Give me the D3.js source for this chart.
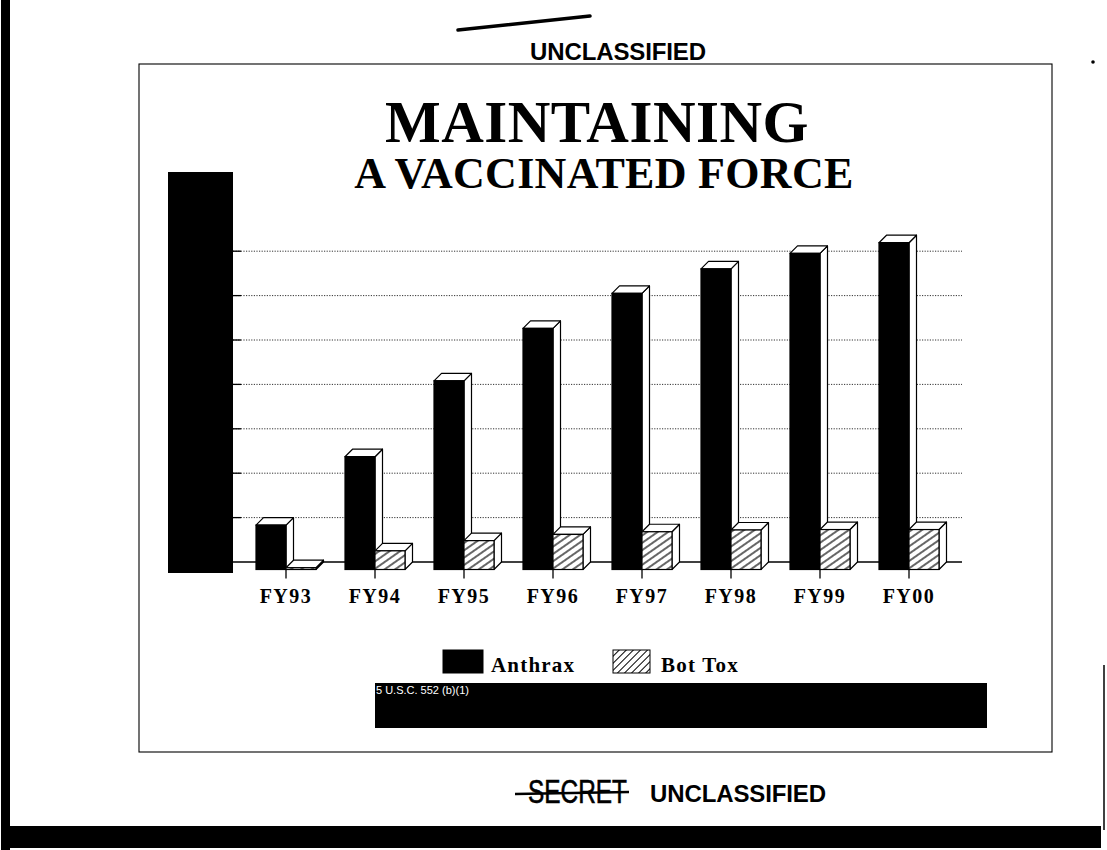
<!DOCTYPE html>
<html lang="en">
<head>
    <meta charset="utf-8">
    <title>Maintaining a Vaccinated Force</title>
    <script src="https://d3js.org/d3.v7.min.js"></script>
    <style type="text/css">
        body{
            margin: 0;
            background: #fff;
        }
        .serif{
            font-family: "Liberation Serif", "Times New Roman", serif;
            font-weight: bold;
        }
        .sans{
            font-family: "Liberation Sans", Arial, sans-serif;
        }
    </style>
</head>
<body>
    <div id="frame"></div>
    <script type="text/javascript">

        // values (y units = gridline steps, axis labels redacted)
        const categories = ["FY93", "FY94", "FY95", "FY96", "FY97", "FY98", "FY99", "FY00"];
        const anthrax = [1.0, 2.54, 4.25, 5.43, 6.22, 6.77, 7.12, 7.36];
        const botTox = [0.04, 0.42, 0.65, 0.79, 0.85, 0.89, 0.90, 0.90];
        const gridTicks = [1, 2, 3, 4, 5, 6, 7];
        const seriesNames = ["Anthrax", "Bot Tox"];

        const W = 1107, H = 850;
        const depth = 7.5;      // 3D offset
        const barW = 30;

        const svg = d3.select("#frame").append("svg")
            .attr("width", W)
            .attr("height", H);

        // hatch patterns
        const defs = svg.append("defs");
        defs.append("pattern")
            .attr("id", "hatch")
            .attr("patternUnits", "userSpaceOnUse")
            .attr("width", 6).attr("height", 6)
            .attr("patternTransform", "rotate(-35)")
            .call(p => {
                p.append("rect").attr("width", 6).attr("height", 6).attr("fill", "#fff");
                p.append("line").attr("x1", 0).attr("x2", 6).attr("y1", 3).attr("y2", 3)
                    .attr("stroke", "#000").attr("stroke-width", 1.2);
            });
        defs.append("pattern")
            .attr("id", "hatchLegend")
            .attr("patternUnits", "userSpaceOnUse")
            .attr("width", 5).attr("height", 5)
            .attr("patternTransform", "rotate(-45)")
            .call(p => {
                p.append("rect").attr("width", 5).attr("height", 5).attr("fill", "#fff");
                p.append("line").attr("x1", 0).attr("x2", 5).attr("y1", 2.5).attr("y2", 2.5)
                    .attr("stroke", "#000").attr("stroke-width", 1);
            });

        // page edges (scan artefacts)
        svg.append("rect").attr("x", 1).attr("y", 0).attr("width", 9).attr("height", H).attr("fill", "#000");
        svg.append("rect").attr("x", 1).attr("y", 826).attr("width", 1100).attr("height", 22).attr("fill", "#000");
        svg.append("line").attr("x1", 1104).attr("x2", 1104).attr("y1", 665).attr("y2", 830)
            .attr("stroke", "#000").attr("stroke-width", 1.5);
        svg.append("circle").attr("cx", 1093).attr("cy", 62).attr("r", 1.8).attr("fill", "#000");

        // slash mark and banners
        svg.append("line").attr("x1", 458).attr("y1", 30).attr("x2", 590).attr("y2", 16)
            .attr("stroke", "#000").attr("stroke-width", 3.5).attr("stroke-linecap", "round");

        svg.append("text")
            .attr("class", "sans")
            .attr("x", 618).attr("y", 60)
            .attr("text-anchor", "middle")
            .attr("font-size", 24).attr("font-weight", "bold")
            .attr("textLength", 176)
            .text("UNCLASSIFIED");

        svg.append("text")
            .attr("class", "sans")
            .attr("x", 738).attr("y", 802)
            .attr("text-anchor", "middle")
            .attr("font-size", 24).attr("font-weight", "bold")
            .attr("textLength", 176)
            .text("UNCLASSIFIED");

        svg.append("text")
            .attr("class", "sans")
            .attr("transform", "translate(528,803) scale(0.74,1)")
            .attr("font-size", 33)
            .attr("stroke", "#000").attr("stroke-width", 0.6)
            .text("SECRET");
        svg.append("line").attr("x1", 515).attr("x2", 629).attr("y1", 794).attr("y2", 792)
            .attr("stroke", "#000").attr("stroke-width", 2.5);

        // slide frame
        svg.append("rect")
            .attr("x", 139).attr("y", 64)
            .attr("width", 913).attr("height", 688)
            .attr("fill", "none").attr("stroke", "#000").attr("stroke-width", 1.1);

        // title
        svg.append("text")
            .attr("class", "serif")
            .attr("x", 597).attr("y", 142)
            .attr("text-anchor", "middle")
            .attr("font-size", 59)
            .attr("letter-spacing", 0.5)
            .text("MAINTAINING");
        svg.append("text")
            .attr("class", "serif")
            .attr("x", 604).attr("y", 188)
            .attr("text-anchor", "middle")
            .attr("font-size", 44)
            .attr("letter-spacing", 0.3)
            .text("A VACCINATED FORCE");

        // scales
        const x = d3.scalePoint()
            .domain(categories)
            .range([286, 909]);

        const y = d3.scaleLinear()
            .domain([0, 8])
            .range([562, 206.8]);

        const gridX0 = 233, gridX1 = 962;

        // dotted gridlines with short solid ticks
        const grid = svg.append("g");
        grid.selectAll("line.grid")
            .data(gridTicks)
            .enter()
            .append("line")
            .attr("class", "grid")
            .attr("x1", gridX0).attr("x2", gridX1)
            .attr("y1", d => y(d)).attr("y2", d => y(d))
            .attr("stroke", "#333")
            .attr("stroke-width", 1)
            .attr("stroke-dasharray", "1.2,1.4");
        grid.selectAll("line.tick")
            .data(gridTicks)
            .enter()
            .append("line")
            .attr("class", "tick")
            .attr("x1", gridX0).attr("x2", gridX0 + 8)
            .attr("y1", d => y(d)).attr("y2", d => y(d))
            .attr("stroke", "#000")
            .attr("stroke-width", 1.3);

        // base line
        svg.append("line")
            .attr("x1", gridX0).attr("x2", gridX1)
            .attr("y1", y(0)).attr("y2", y(0))
            .attr("stroke", "#000").attr("stroke-width", 1.3);

        // x ticks below bars
        svg.append("g").selectAll("line")
            .data(categories)
            .enter()
            .append("line")
            .attr("x1", d => x(d)).attr("x2", d => x(d))
            .attr("y1", y(0) + depth).attr("y2", y(0) + depth + 9)
            .attr("stroke", "#000").attr("stroke-width", 1.3);

        // draws one 3D box: front face at [x0, x0+w], value v
        function box(g, x0, v, frontFill) {
            const yb = y(0) + depth;
            const yt = y(v) + depth;
            const line = d3.line();
            // side
            g.append("path")
                .attr("d", line([[x0 + barW, yb], [x0 + barW + depth, yb - depth], [x0 + barW + depth, yt - depth], [x0 + barW, yt]]) + "Z")
                .attr("fill", "#fff").attr("stroke", "#000").attr("stroke-width", 1.2)
                .attr("stroke-linejoin", "round");
            // top
            g.append("path")
                .attr("d", line([[x0, yt], [x0 + depth, yt - depth], [x0 + barW + depth, yt - depth], [x0 + barW, yt]]) + "Z")
                .attr("fill", "#fff").attr("stroke", "#000").attr("stroke-width", 1.2)
                .attr("stroke-linejoin", "round");
            // front
            g.append("rect")
                .attr("x", x0).attr("y", yt)
                .attr("width", barW).attr("height", Math.max(yb - yt, 0))
                .attr("fill", frontFill).attr("stroke", "#000").attr("stroke-width", 1.2);
        }

        const bars = svg.append("g");
        categories.forEach((c, i) => {
            const g = bars.append("g").attr("class", "cat");
            box(g, x(c) - barW, anthrax[i], "#000");
            box(g, x(c), botTox[i], "url(#hatch)");
        });

        // category labels
        svg.append("g").selectAll("text")
            .data(categories)
            .enter()
            .append("text")
            .attr("class", "serif")
            .attr("x", d => x(d))
            .attr("y", 603)
            .attr("text-anchor", "middle")
            .attr("font-size", 20)
            .attr("letter-spacing", 1.5)
            .text(d => d);

        // redaction on the y axis
        svg.append("rect")
            .attr("x", 168).attr("y", 172)
            .attr("width", 65).attr("height", 401)
            .attr("fill", "#000");

        // legend
        const legend = svg.append("g");
        const legendX = [443, 613];
        const legendFill = ["#000", "url(#hatchLegend)"];
        legend.selectAll("rect")
            .data(seriesNames)
            .enter()
            .append("rect")
            .attr("x", (d, i) => legendX[i])
            .attr("y", 650)
            .attr("width", (d, i) => i === 0 ? 40 : 37)
            .attr("height", 23)
            .attr("fill", (d, i) => legendFill[i])
            .attr("stroke", "#000").attr("stroke-width", 1);
        legend.selectAll("text")
            .data(seriesNames)
            .enter()
            .append("text")
            .attr("class", "serif")
            .attr("x", (d, i) => legendX[i] + 48)
            .attr("y", 672)
            .attr("font-size", 21)
            .attr("letter-spacing", 1.2)
            .text(d => d);

        // redacted note
        svg.append("rect")
            .attr("x", 375).attr("y", 683)
            .attr("width", 612).attr("height", 45)
            .attr("fill", "#000");
        svg.append("text")
            .attr("class", "sans")
            .attr("x", 376).attr("y", 694)
            .attr("font-size", 11)
            .attr("fill", "#fff")
            .text("5 U.S.C. 552 (b)(1)");

    </script>
</body>
</html>
